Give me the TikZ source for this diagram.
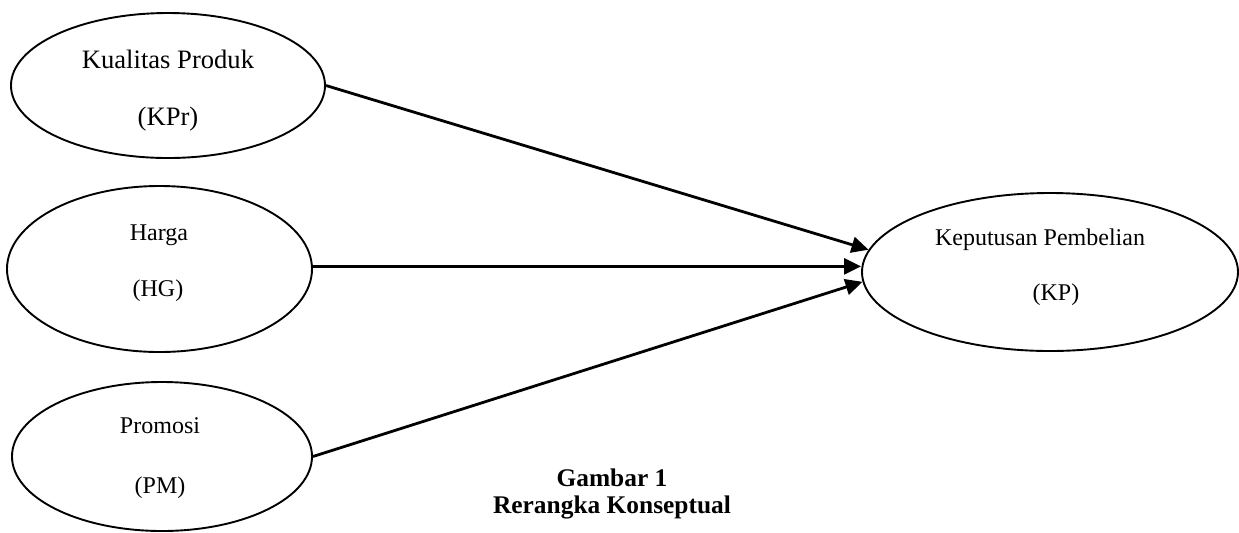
\documentclass[tikz,border=0pt]{standalone}
\usepackage{fontspec}
\setmainfont{Liberation Serif}
\usetikzlibrary{shapes.geometric,arrows.meta}
\begin{document}
\begin{tikzpicture}[x=0.5pt,y=-0.5pt,
  construct/.style={draw,ellipse,line width=0.95pt,inner sep=0pt},
  lbl/.style={inner sep=0pt,font=\fontsize{12}{14}\selectfont},
  path/.style={line width=1.4pt,-{Triangle[length=8.5pt,width=8pt]}},
  caption/.style={inner sep=0pt,font=\fontsize{12.7}{15}\selectfont\bfseries}]
\useasboundingbox (0,0) rectangle (1239,532);
% latent constructs
\node[construct,minimum width=157pt,minimum height=72.5pt] (kpr) at (168,85.5) {};
\node[construct,minimum width=152.5pt,minimum height=83pt] (hg) at (159.5,269) {};
\node[construct,minimum width=150pt,minimum height=74.5pt] (pm) at (162,456.5) {};
\node[construct,minimum width=188pt,minimum height=79pt] (kp) at (1050,272) {};
% construct labels
\node[lbl,font=\fontsize{13.3}{15}\selectfont] (kprname) at (168,59) {Kualitas Produk};
\node[lbl,font=\fontsize{13.3}{15}\selectfont] (kprcode) at (168,119) {(KPr)};
\node[lbl] (hgname) at (159,235) {Harga};
\node[lbl] (hgcode) at (158,291) {(HG)};
\node[lbl] (pmname) at (160,426) {Promosi};
\node[lbl] (pmcode) at (160,488) {(PM)};
\node[lbl] (kpname) at (1040,240) {Keputusan Pembelian};
\node[lbl] (kpcode) at (1056,295) {(KP)};
% paths into the dependent construct
\draw[path] (kpr.east) -- (kp.173);
\draw[path] (hg.1.5) -- (hg.1.5 -| kp.west);
\draw[path] (pm.east) -- (kp.183);
% figure caption
\node[caption] (capnum) at (612,478) {Gambar 1};
\node[caption] (captitle) at (612,507) {Rerangka Konseptual};
\end{tikzpicture}
\end{document}
